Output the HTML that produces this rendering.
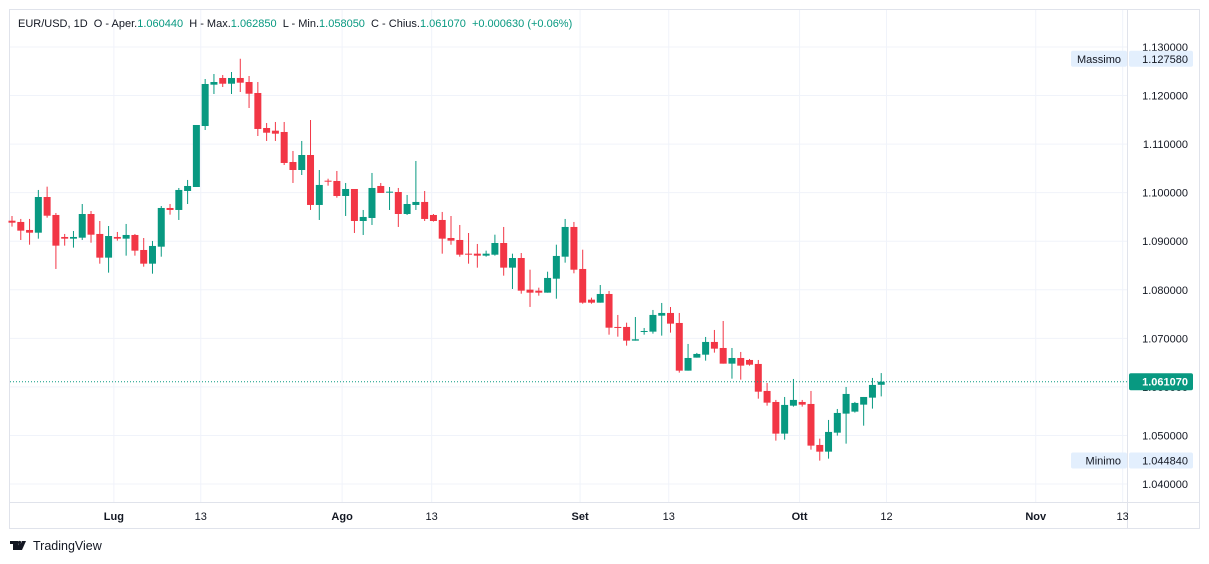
<!DOCTYPE html>
<html><head><meta charset="utf-8"><style>
body{margin:0;background:#fff;font-family:"Liberation Sans",Arial,sans-serif;}
#wrap{position:relative;width:1209px;height:564px;overflow:hidden;}
svg text{font-family:"Liberation Sans",Arial,sans-serif;}
</style></head><body>
<div id="wrap">
<svg id="chart" width="1209" height="564"></svg>
</div>
<script>
const opens=[1.09423,1.09397,1.09232,1.09176,1.09911,1.09541,1.09088,1.09053,1.09073,1.09561,1.0915,1.08662,1.09088,1.09053,1.09129,1.0882,1.08538,1.08888,1.09685,1.09644,1.10035,1.10117,1.11373,1.12224,1.12362,1.12244,1.12362,1.12279,1.12053,1.11332,1.11277,1.1125,1.10632,1.10467,1.10776,1.09747,1.10247,1.10241,1.09932,1.10076,1.09417,1.09479,1.10138,1.1,1.10014,1.09561,1.09747,1.09809,1.09541,1.09438,1.09067,1.09026,1.08744,1.08744,1.08703,1.08723,1.08964,1.08456,1.08655,1.08003,1.07982,1.07941,1.08229,1.08682,1.09294,1.08429,1.07797,1.07735,1.07914,1.07235,1.07235,1.06953,1.07132,1.07138,1.07467,1.07523,1.07317,1.06335,1.06603,1.06664,1.06926,1.06802,1.06479,1.06596,1.06555,1.06473,1.05917,1.0569,1.05038,1.05614,1.0569,1.05649,1.04805,1.04667,1.05058,1.0545,1.05491,1.05635,1.05779,1.06044];
const highs=[1.0952,1.09459,1.09459,1.10056,1.10124,1.09582,1.0915,1.09211,1.09767,1.09623,1.09417,1.09314,1.09191,1.09356,1.0915,1.09067,1.09006,1.09726,1.09767,1.10097,1.10262,1.11394,1.12341,1.12444,1.12423,1.12485,1.12758,1.12403,1.12279,1.11435,1.11456,1.11456,1.10859,1.11065,1.11497,1.10467,1.10288,1.10447,1.102,1.10076,1.09644,1.10406,1.102,1.10117,1.10097,1.09953,1.10653,1.10035,1.09561,1.09603,1.0952,1.09335,1.0917,1.08944,1.08806,1.09135,1.09294,1.08744,1.08758,1.08414,1.08044,1.08373,1.08929,1.09459,1.09397,1.08826,1.07838,1.08099,1.07976,1.07482,1.07323,1.0744,1.07214,1.07585,1.07729,1.07647,1.07523,1.06885,1.067,1.07029,1.07173,1.07358,1.06802,1.0672,1.06576,1.06555,1.06082,1.05732,1.05793,1.06164,1.05732,1.05917,1.04935,1.0532,1.05546,1.05999,1.05691,1.05793,1.06185,1.06285];
const lows=[1.0930,1.09026,1.08929,1.09053,1.09485,1.08429,1.08909,1.08868,1.09026,1.0897,1.08538,1.08353,1.09012,1.08703,1.08703,1.08476,1.08332,1.08682,1.09547,1.09438,1.09767,1.10117,1.11291,1.12032,1.12176,1.12032,1.12073,1.11744,1.11167,1.11065,1.11065,1.1057,1.102,1.10364,1.09644,1.09438,1.10144,1.09897,1.0952,1.0917,1.09129,1.09335,1.09994,1.09644,1.09294,1.09541,1.09644,1.09417,1.09405,1.08744,1.08929,1.08682,1.08538,1.08456,1.08682,1.08703,1.08291,1.08017,1.0792,1.07647,1.07879,1.07941,1.07817,1.08559,1.0834,1.07714,1.07714,1.07735,1.07076,1.07035,1.0685,1.06953,1.07076,1.07097,1.07056,1.07117,1.06294,1.06335,1.06603,1.06541,1.06706,1.06479,1.0617,1.0615,1.06438,1.05758,1.05614,1.04894,1.04914,1.05594,1.05594,1.04708,1.04482,1.04523,1.04997,1.04832,1.05471,1.05202,1.05553,1.05805];
const closes=[1.09382,1.09218,1.09176,1.09911,1.09526,1.08909,1.09053,1.09088,1.09561,1.09135,1.08662,1.09108,1.09053,1.09129,1.08806,1.08538,1.08903,1.09685,1.09644,1.10056,1.10138,1.11394,1.12238,1.12279,1.12244,1.12362,1.12265,1.12038,1.11312,1.11235,1.11215,1.10612,1.10467,1.10776,1.09747,1.10159,1.10226,1.09932,1.10076,1.09417,1.095,1.10097,1.09994,1.10021,1.09561,1.09767,1.09809,1.09459,1.09417,1.09053,1.09012,1.08723,1.08723,1.08703,1.08744,1.08964,1.08456,1.08655,1.07982,1.07941,1.07941,1.08244,1.08697,1.09294,1.08414,1.07735,1.07735,1.07914,1.0722,1.07214,1.06953,1.06981,1.07152,1.07482,1.07523,1.07303,1.06335,1.06596,1.06679,1.06926,1.06788,1.06479,1.06596,1.06438,1.06458,1.05902,1.05676,1.05038,1.05629,1.05732,1.05635,1.04791,1.04667,1.05073,1.05464,1.05855,1.0567,1.05793,1.06041,1.06107];
const priceTicks=[1.13,1.12,1.11,1.10,1.09,1.08,1.07,1.06,1.05,1.04];
const timeLabels=["Lug","13","Ago","13","Set","13","Ott","12","Nov","13"];
const timeIdx=[11.6,21.5,37.6,47.8,64.7,74.8,89.7,99.6,116.6,126.5];
const boldLabels=["Lug","Ago","Set","Ott","Nov"];
const maxPrice=1.12758, minPrice=1.04484, lastPrice=1.06107;

const NS="http://www.w3.org/2000/svg";
const svg=document.getElementById('chart');
const yS=p=>47+(1.13-p)/0.01*48.56;
const xS=i=>12+i*8.78;
function mk(t,a,parent){const e=document.createElementNS(NS,t);for(const k in a)e.setAttribute(k,a[k]);(parent||svg).appendChild(e);return e;}
// frame
const fr=mk('rect',{x:9.5,y:9.5,width:1190,height:519,fill:'#fff',stroke:'#e0e3eb'});


// grid
priceTicks.forEach(p=>{const l=mk('line',{x1:10,x2:1127,y1:yS(p),y2:yS(p),stroke:'#f0f3fa'});

});
timeIdx.forEach(i=>{const l=mk('line',{x1:xS(i),x2:xS(i),y1:10,y2:502,stroke:'#f0f3fa'});

});
// axes separators
const ax1=mk('line',{x1:1127.5,x2:1127.5,y1:10,y2:528,stroke:'#e0e3eb'});


const ax2=mk('line',{x1:10,x2:1199,y1:502.5,y2:502.5,stroke:'#e0e3eb'});


// candles
for(let i=0;i<opens.length;i++){
 const up=closes[i]>=opens[i];const c=up?'#089981':'#f23645';const x=xS(i);
 const g=mk('g',{});
 
 
 mk('line',{x1:x,x2:x,y1:yS(highs[i]),y2:yS(lows[i]),stroke:c,'stroke-width':1},g);
 const t=yS(Math.max(opens[i],closes[i])),b=yS(Math.min(opens[i],closes[i]));
 mk('rect',{x:x-3.5,y:t,width:7,height:Math.max(1,b-t),fill:c},g);
}
// last price line
const lp=mk('line',{x1:10,x2:1127,y1:yS(lastPrice),y2:yS(lastPrice),stroke:'#089981','stroke-dasharray':'1 2'});


// price labels
priceTicks.forEach(p=>{const t=mk('text',{x:1188,y:yS(p)+4,'text-anchor':'end','font-size':11,fill:'#131722'});t.textContent=p.toFixed(6);

});
function badge(p,name,txt){
 const y=yS(p);
 const r1=mk('rect',{x:1071,y:y-8,width:56,height:16,fill:'#e3effd',rx:2});
 
 
 const t1=mk('text',{x:1121,y:y+4,'text-anchor':'end','font-size':11,fill:'#131722'});t1.textContent=txt;
 
 
 const r2=mk('rect',{x:1129,y:y-8,width:64,height:16,fill:'#e3effd',rx:2});
 
 
 const t2=mk('text',{x:1188,y:y+4,'text-anchor':'end','font-size':11,fill:'#131722'});t2.textContent=p.toFixed(6);
 
 
}
badge(maxPrice,'max','Massimo');
badge(minPrice,'min','Minimo');
const lr=mk('rect',{x:1129,y:yS(lastPrice)-8.5,width:64,height:17,fill:'#089981',rx:2});


const lt=mk('text',{x:1188,y:yS(lastPrice)+4,'text-anchor':'end','font-size':11,'font-weight':'bold',fill:'#fff'});lt.textContent=lastPrice.toFixed(6);


// time labels
timeLabels.forEach((s,k)=>{const t=mk('text',{x:xS(timeIdx[k]),y:520,'text-anchor':'middle','font-size':11,fill:'#131722','font-weight':boldLabels.includes(s)?'bold':'normal'});t.textContent=s;

});
// cover beyond price axis for time labels
const cv=mk('rect',{x:1128,y:503,width:71,height:25,fill:'#fff'});


// header
const hd=mk('text',{x:18,y:27,'font-size':11,fill:'#131722'});


const parts=[["EUR/USD, 1D  O - Aper.","#131722"],["1.060440","#089981"],["  H - Max.","#131722"],["1.062850","#089981"],["  L - Min.","#131722"],["1.058050","#089981"],["  C - Chius.","#131722"],["1.061070","#089981"],["  +0.000630 (+0.06%)","#089981"]];
parts.forEach(([s,c])=>{const ts=mk('tspan',{fill:c},hd);ts.textContent=s;});
hd.setAttribute('xml:space','preserve');hd.style.whiteSpace='pre';
// logo
const lg=mk('g',{});


mk('path',{d:'M10 541h8v9h-3v-6h-5z M19 541h4l-3 9h-3z M21 541a1.5 1.5 0 1 0 0.01 0',fill:'#131722'},lg);
mk('rect',{x:10,y:541,width:6,height:3,fill:'#131722'},lg);
mk('rect',{x:13,y:541,width:3,height:9,fill:'#131722'},lg);
mk('circle',{cx:19.5,cy:542.5,r:1.6,fill:'#131722'},lg);
mk('path',{d:'M22 541h4l-4 9h-4z',fill:'#131722'},lg);
const lgt=mk('text',{x:33,y:550,'font-size':12.5,fill:'#131722'},lg);lgt.textContent='TradingView';
</script>
</body></html>
